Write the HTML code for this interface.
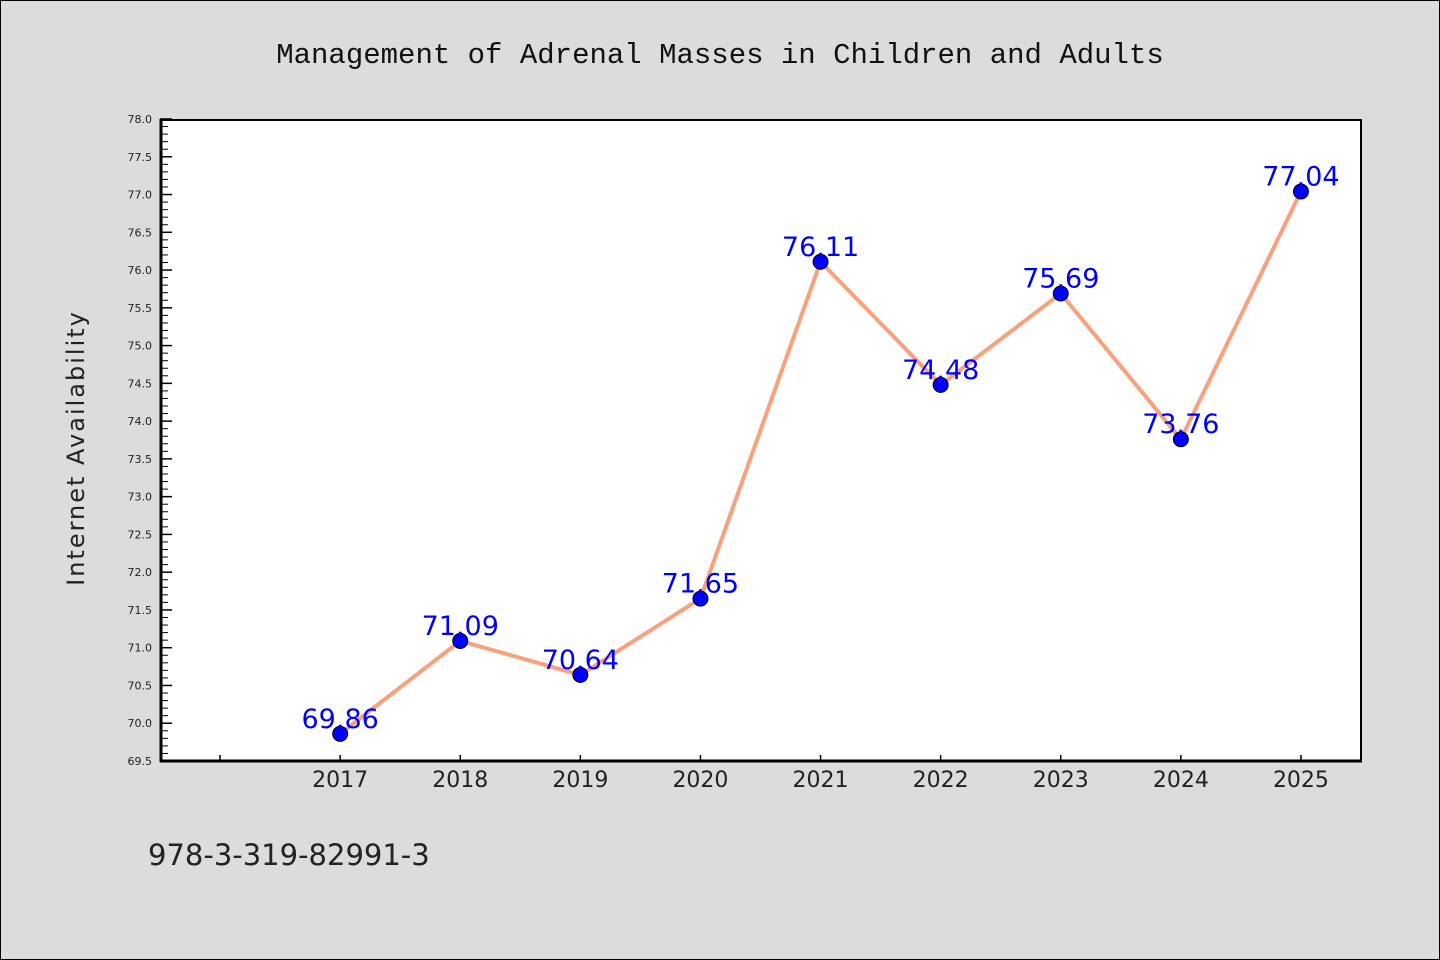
<!DOCTYPE html>
<html><head><meta charset="utf-8"><style>
body{margin:0;background:#dcdcdc;}
svg{display:block;font-family:"DejaVu Sans","Liberation Sans",sans-serif;}
</style></head><body>
<svg id="chart" width="1440" height="960" viewBox="0 0 1440 960">
<rect x="0.5" y="0.5" width="1439" height="959" fill="#dcdcdc" stroke="#000"/>
<text x="720" y="63" text-anchor="middle" font-size="29" font-family="'Liberation Mono','DejaVu Sans Mono',monospace" fill="#111">Management of Adrenal Masses in Children and Adults</text>
<rect x="160" y="119" width="1201" height="642" fill="#fff"/>
<g id="axes"></g>
<g id="series"></g>
<line x1="160" y1="120" x2="1361" y2="120" stroke="#000" stroke-width="2"/>
<line x1="1361" y1="119" x2="1361" y2="761" stroke="#000" stroke-width="2"/>
<line x1="161" y1="119" x2="161" y2="762" stroke="#000" stroke-width="3"/>
<line x1="160" y1="761" x2="1362" y2="761" stroke="#000" stroke-width="3"/>
<text transform="translate(84,448) rotate(-90)" text-anchor="middle" font-size="24" letter-spacing="2" fill="#222">Internet Availability</text>
<text x="148" y="865" font-size="29" fill="#222">978-3-319-82991-3</text>
</svg>
<script>
const years = [2017,2018,2019,2020,2021,2022,2023,2024,2025];
const values = [69.86,71.09,70.64,71.65,76.11,74.48,75.69,73.76,77.04];
const yTickLabels = ["69.5","70.0","70.5","71.0","71.5","72.0","72.5","73.0","73.5","74.0","74.5","75.0","75.5","76.0","76.5","77.0","77.5","78.0"];
const xTicks = [2016,2017,2018,2019,2020,2021,2022,2023,2024,2025];

const NS="http://www.w3.org/2000/svg";
const X0=160,X1=1361,Y0=761,Y1=119,XMIN=2015.5,XMAX=2025.5,YMIN=69.5,YMAX=78.0;
const xs=v=>X0+(v-XMIN)/(XMAX-XMIN)*(X1-X0);
const ys=v=>Y0-(v-YMIN)/(YMAX-YMIN)*(Y0-Y1);
function mk(tag,attrs,parent,txt){const e=document.createElementNS(NS,tag);for(const k in attrs)e.setAttribute(k,attrs[k]);if(txt!==undefined)e.textContent=txt;parent.appendChild(e);return e;}
const axes=document.getElementById('axes'),series=document.getElementById('series');

yTickLabels.forEach(l=>{
  const v=parseFloat(l),y=ys(v);
  const t=mk('line',{x1:X0,x2:X0+12,y1:y,y2:y,stroke:'#000','stroke-width':1.5},axes);
  
  
  const tx=mk('text',{x:X0-8,y:y+4,'text-anchor':'end','font-size':11,fill:'#222'},axes,l);
  
  
});
for(let i=0;i<85;i++){
  if(i%5===0)continue;
  const y=ys(YMIN+i*0.1);
  const m=mk('line',{x1:X0,x2:X0+8,y1:y,y2:y,stroke:'#000','stroke-width':1},axes);
  
  
}
xTicks.forEach(v=>{
  const x=xs(v);
  const t=mk('line',{x1:x,x2:x,y1:Y0,y2:Y0-6,stroke:'#000','stroke-width':1.5},axes);
  
  
  if(years.includes(v)){
    const tx=mk('text',{x:x,y:Y0+26,'text-anchor':'middle','font-size':22,fill:'#222'},axes,String(v));
    
    
  }
});
const pts=years.map((yr,i)=>xs(yr)+','+ys(values[i])).join(' ');
const line=mk('polyline',{points:pts,fill:'none',stroke:'#f9a07c','stroke-width':4,'stroke-linejoin':'round'},series);


years.forEach((yr,i)=>{
  const x=xs(yr),y=ys(values[i]);
  const c=mk('circle',{cx:x,cy:y,r:7.5,fill:'#0000ff',stroke:'#000','stroke-width':1},series);
  
  
});
years.forEach((yr,i)=>{
  const x=xs(yr),y=ys(values[i]);
  const t=mk('text',{x:x,y:y-6,'text-anchor':'middle','font-size':27,fill:'#0000ff'},series,values[i].toFixed(2));
  
  
});
</script>
</body></html>
